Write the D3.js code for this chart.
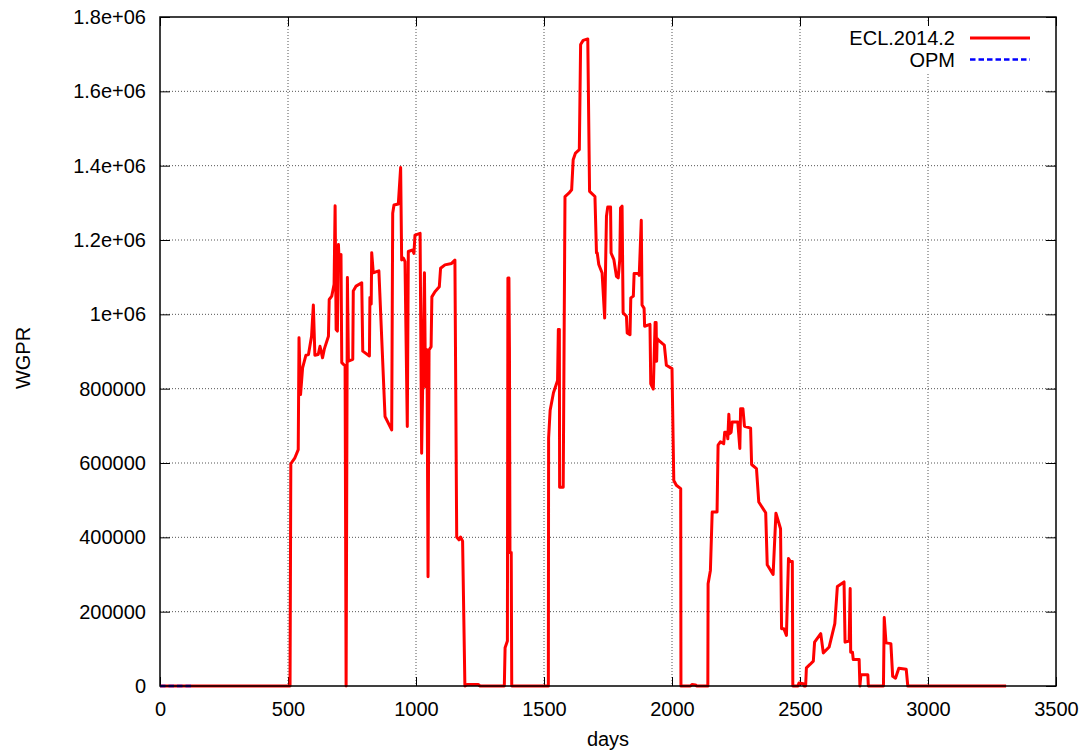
<!DOCTYPE html>
<html>
<head>
<meta charset="utf-8">
<script src="https://cdn.jsdelivr.net/npm/d3@7/dist/d3.min.js"></script>
<style>
  body { margin: 0; background: #fff; }
  svg { display: block; font-family: "Liberation Sans", Arial, sans-serif; }
</style>
</head>
<body>
<div id="chart"></div>
<script>
// ECL.2014.2 WGPR (day, value)
var eclDays = [0, 508, 511, 527, 540, 543, 549, 557, 570, 580, 592, 599, 605, 618, 625, 635, 642, 658, 661, 671,
  680, 684, 688, 693, 697, 701, 703, 707, 710, 723, 727, 732, 736, 753, 755, 766, 788, 792, 818, 820,
  825, 827, 833, 855, 879, 905, 909, 914, 931, 940, 944, 951, 957, 966, 970, 987, 992, 996, 1016, 1022,
  1033, 1037, 1043, 1047, 1051, 1059, 1062, 1074, 1091, 1096, 1113, 1139, 1152, 1159, 1168, 1174, 1182, 1191, 1200, 1243,
  1250, 1345, 1348, 1357, 1359, 1363, 1365, 1367, 1372, 1374, 1517, 1518, 1524, 1537, 1553, 1556, 1560, 1561, 1575, 1582,
  1597, 1608, 1614, 1623, 1638, 1643, 1653, 1671, 1678, 1699, 1705, 1708, 1714, 1727, 1737, 1744, 1749, 1760, 1762, 1773,
  1783, 1790, 1796, 1799, 1805, 1809, 1822, 1825, 1836, 1839, 1849, 1852, 1868, 1872, 1880, 1883, 1891, 1893, 1914, 1917,
  1927, 1934, 1938, 1940, 1942, 1948, 1963, 1970, 1978, 2000, 2007, 2017, 2034, 2035, 2072, 2078, 2092, 2096, 2140, 2141,
  2150, 2157, 2176, 2180, 2189, 2202, 2206, 2215, 2218, 2222, 2226, 2231, 2235, 2257, 2265, 2268, 2277, 2283, 2307, 2311,
  2330, 2339, 2366, 2372, 2395, 2406, 2424, 2428, 2437, 2447, 2455, 2462, 2470, 2472, 2492, 2496, 2513, 2516, 2522, 2525,
  2539, 2552, 2557, 2581, 2591, 2614, 2636, 2646, 2672, 2676, 2692, 2696, 2698, 2705, 2708, 2731, 2734, 2738, 2765, 2767,
  2826, 2829, 2836, 2855, 2862, 2873, 2886, 2915, 2921, 3305];
var eclWgpr = [0, 0, 598000, 614000, 636000, 937000, 784000, 856000, 890000, 892000, 941000, 1025000, 890000, 892000, 914000, 883000, 907000, 941000, 1040000, 1049000,
  1081000, 1292000, 959000, 955000, 1188000, 1125000, 1157000, 1161000, 870000, 861000, 0, 1099000, 874000, 879000, 1063000, 1076000, 1085000, 901000, 888000, 1045000,
  1028000, 1166000, 1112000, 1117000, 725000, 689000, 1272000, 1294000, 1297000, 1395000, 1146000, 1151000, 1142000, 698000, 1169000, 1173000, 1164000, 1213000, 1218000, 626000,
  1112000, 805000, 905000, 294000, 904000, 913000, 1047000, 1061000, 1074000, 1124000, 1133000, 1137000, 1146000, 401000, 393000, 401000, 390000, 0, 4000, 4000,
  0, 0, 103000, 121000, 1098000, 1098000, 911000, 359000, 359000, 0, 0, 667000, 742000, 789000, 822000, 959000, 959000, 535000, 535000, 1317000,
  1326000, 1335000, 1416000, 1434000, 1443000, 1726000, 1737000, 1741000, 1331000, 1317000, 1165000, 1165000, 1134000, 1111000, 990000, 1264000, 1289000, 1289000, 1165000, 1147000,
  1102000, 1098000, 1147000, 1286000, 1291000, 1004000, 995000, 950000, 945000, 1044000, 1049000, 1110000, 1110000, 1105000, 1253000, 1025000, 1016000, 968000, 973000, 813000,
  799000, 978000, 978000, 874000, 935000, 930000, 921000, 917000, 863000, 854000, 553000, 540000, 531000, 0, 0, 4000, 3000, 0, 0, 275000,
  311000, 468000, 468000, 648000, 657000, 652000, 683000, 683000, 665000, 731000, 679000, 683000, 710000, 710000, 639000, 746000, 746000, 699000, 694000, 596000,
  585000, 495000, 466000, 326000, 300000, 465000, 423000, 154000, 154000, 136000, 343000, 335000, 335000, 0, 0, 8000, 6000, 0, 0, 49000,
  58000, 67000, 118000, 141000, 89000, 105000, 168000, 268000, 280000, 118000, 121000, 262000, 91000, 91000, 71000, 71000, 0, 31000, 30000, 0,
  0, 184000, 116000, 114000, 26000, 21000, 48000, 45000, 0, 0];

// OPM WGPR
var opmDays = [0, 30, 60, 90, 130];
var opmWgpr = [0, 0, 0, 0, 0];

var xTicks = [0, 500, 1000, 1500, 2000, 2500, 3000, 3500];
var yTicks = [0, 200000, 400000, 600000, 800000, 1000000, 1200000, 1400000, 1600000, 1800000];
var yTickLabels = ["0", "200000", "400000", "600000", "800000", "1e+06", "1.2e+06", "1.4e+06", "1.6e+06", "1.8e+06"];
var legendNames = ["ECL.2014.2", "OPM"];
var legendColors = ["#ff0000", "#0000ff"];

var W = 1086, H = 754;
var margin = { top: 17, right: 30, bottom: 68, left: 160 };
var width = W - margin.left - margin.right,
    height = H - margin.top - margin.bottom;

var svg = d3.select("#chart").append("svg")
  .attr("width", W)
  .attr("height", H);

var g = svg.append("g")
  .attr("transform", "translate(" + margin.left + "," + margin.top + ")");

var x = d3.scaleLinear().domain([0, 3500]).range([0, width]);
var y = d3.scaleLinear().domain([0, 1800000]).range([height, 0]);

// grid
g.append("g").selectAll("line")
  .data(xTicks.slice(1, -1))
  .enter().append("line")
  .attr("x1", function(d) { return x(d); })
  .attr("x2", function(d) { return x(d); })
  .attr("y1", 0).attr("y2", height)
  .attr("stroke", "#555").attr("stroke-width", 1)
  .attr("stroke-dasharray", "1,2");

g.append("g").selectAll("line")
  .data(yTicks.slice(1, -1))
  .enter().append("line")
  .attr("x1", 0).attr("x2", width)
  .attr("y1", function(d) { return y(d); })
  .attr("y2", function(d) { return y(d); })
  .attr("stroke", "#555").attr("stroke-width", 1)
  .attr("stroke-dasharray", "1,2");

// legend background hides the grid under the key
g.append("rect")
  .attr("x", 672).attr("y", 6)
  .attr("width", 210).attr("height", 50)
  .attr("fill", "#fff");

// axes, ticks pointing inwards like gnuplot
function styleAxis(sel) {
  sel.select(".domain").remove();
  sel.selectAll(".tick line").attr("stroke", "#000").attr("stroke-width", 1);
  sel.selectAll("text").attr("fill", "#000").style("font-size", "20px");
}

g.append("g")
  .attr("transform", "translate(0," + height + ")")
  .call(d3.axisBottom(x).tickValues(xTicks).tickSize(-9).tickPadding(16).tickFormat(d3.format("d")))
  .call(styleAxis);

g.append("g")
  .call(d3.axisTop(x).tickValues(xTicks).tickSize(-9).tickFormat(""))
  .call(styleAxis);

g.append("g")
  .call(d3.axisLeft(y).tickValues(yTicks).tickSize(-10).tickPadding(14)
    .tickFormat(function(d, i) { return yTickLabels[i]; }))
  .call(styleAxis);

g.append("g")
  .attr("transform", "translate(" + width + ",0)")
  .call(d3.axisRight(y).tickValues(yTicks).tickSize(-10).tickFormat(""))
  .call(styleAxis);

// data lines
var line = d3.line()
  .x(function(d) { return x(d[0]); })
  .y(function(d) { return y(d[1]); });

g.append("path")
  .datum(d3.zip(eclDays, eclWgpr))
  .attr("d", line)
  .attr("fill", "none")
  .attr("stroke", legendColors[0])
  .attr("stroke-width", 3)
  .attr("stroke-linejoin", "round");

g.append("path")
  .datum(d3.zip(opmDays, opmWgpr))
  .attr("d", line)
  .attr("fill", "none")
  .attr("stroke", legendColors[1])
  .attr("stroke-width", 2.5)
  .attr("stroke-dasharray", "5.5,3");

// border
g.append("rect")
  .attr("x", 0).attr("y", 0)
  .attr("width", width).attr("height", height)
  .attr("fill", "none")
  .attr("stroke", "#000")
  .attr("stroke-width", 1.5);

// legend
var key = g.append("g");
legendNames.forEach(function(name, i) {
  var ky = 21 + i * 21.5;
  key.append("text")
    .attr("x", 795).attr("y", ky)
    .attr("dy", "0.35em")
    .attr("text-anchor", "end")
    .style("font-size", "20px")
    .text(name);
  key.append("line")
    .attr("x1", 810).attr("x2", 870)
    .attr("y1", ky).attr("y2", ky)
    .attr("stroke", legendColors[i])
    .attr("stroke-width", i === 0 ? 3 : 2.5)
    .attr("stroke-dasharray", i === 0 ? null : "5.5,3");
});

// axis titles
svg.append("text")
  .attr("x", margin.left + width / 2).attr("y", 746)
  .attr("text-anchor", "middle")
  .style("font-size", "20px")
  .text("days");

svg.append("text")
  .attr("transform", "translate(30," + 358 + ") rotate(-90)")
  .attr("text-anchor", "middle")
  .style("font-size", "20px")
  .text("WGPR");
</script>
</body>
</html>
